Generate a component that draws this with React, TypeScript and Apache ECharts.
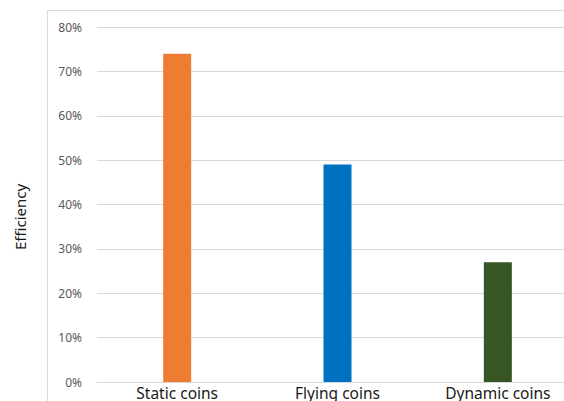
import React, { useEffect, useRef } from "react";
import * as echarts from "echarts";

const categories = ["Static coins", "Flying coins", "Dynamic coins"];
const values = [0.74, 0.49, 0.27];
const barColors = ["#ED7D31", "#0070C0", "#375623"];
const yTicks = [0, 0.1, 0.2, 0.3, 0.4, 0.5, 0.6, 0.7, 0.8];
const yTitle = "Efficiency";

export default function App() {
  const ref = useRef<HTMLDivElement>(null);
  useEffect(() => {
    const chart = echarts.init(ref.current!, null, { renderer: "svg" });
    chart.setOption({
      animation: false,
      backgroundColor: "#ffffff",
      graphic: [
        {
          type: "rect",
          shape: { x: 47.5, y: 10.5, width: 600, height: 500 },
          style: { fill: "none", stroke: "#d9d9d9", lineWidth: 1 },
          silent: true,
          z: -1,
        },
        {
          type: "text",
          x: 20,
          y: 217,
          rotation: Math.PI / 2,
          style: {
            text: yTitle,
            fill: "#1a1a1a",
            fontSize: 15,
            fontFamily: "Noto Sans",
            align: "center",
            verticalAlign: "middle",
          },
        },
      ],
      grid: { left: 97, top: 27, width: 481, height: 356, containLabel: false },
      xAxis: {
        type: "category",
        data: categories,
        axisLine: { show: true, lineStyle: { color: "#d9d9d9" } },
        axisTick: { show: false },
        axisLabel: {
          color: "#1a1a1a",
          fontSize: 15.5,
          fontFamily: "Noto Sans",
          margin: 3,
        },
      },
      yAxis: {
        type: "value",
        min: yTicks[0],
        max: yTicks[yTicks.length - 1],
        interval: 0.1,
        axisLine: { show: false },
        axisTick: { show: false },
        splitLine: { lineStyle: { color: "#d9d9d9" } },
        axisLabel: {
          color: "#595959",
          fontSize: 12,
          fontFamily: "Noto Sans",
          margin: 15,
          formatter: (v: number) => Math.round(v * 100) + "%",
        },
      },
      series: [
        {
          type: "bar",
          barWidth: 28,
          data: values.map((v, i) => ({ value: v, itemStyle: { color: barColors[i] } })),
        },
      ],
    });
    return () => chart.dispose();
  }, []);
  return (
    <div style={{ width: 564, height: 401, position: "absolute", left: 0, top: 0, overflow: "hidden" }}>
      <div ref={ref} style={{ width: 600, height: 401 }} />
    </div>
  );
}
